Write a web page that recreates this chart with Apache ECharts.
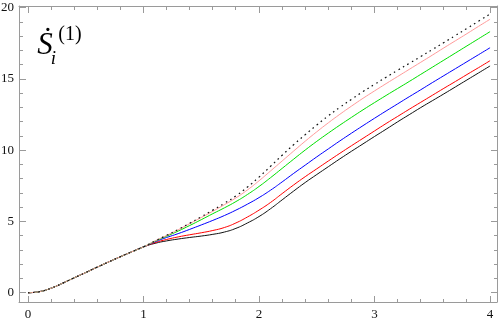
<!DOCTYPE html>
<html>
<head>
<meta charset="utf-8">
<script src="https://cdn.jsdelivr.net/npm/echarts@6/dist/echarts.min.js"></script>
<style>html,body{margin:0;padding:0;background:#fff}#c{width:500px;height:320px}</style>
</head>
<body>
<div id="c"></div>
<script>
// x samples
const xs = [0,0.1,0.2,0.3,0.4,0.5,0.6,0.7,0.8,0.9,1.0,
  1.1,1.2,1.3,1.4,1.5,1.6,1.7,1.8,1.9,2.0,
  2.1,2.2,2.3,2.4,2.5,2.6,2.7,2.8,2.9,3.0,
  3.1,3.2,3.3,3.4,3.5,3.6,3.7,3.8,3.9,4.0];
// shared part of every curve, x = 0 .. 1.0
const common = [0,0.08,0.32,0.67,1.05,1.42,1.80,2.17,2.53,2.88,3.22];
// individual parts, x = 1.1 .. 4.0
const blackTail = [3.47,3.64,3.77,3.88,3.98,4.10,4.26,4.52,4.90,5.35,5.90,6.52,7.14,7.74,8.30,8.85,9.40,9.93,10.45,10.97,11.48,12.00,12.50,13.00,13.48,13.96,14.45,14.94,15.43,15.92];
const redTail = [3.52,3.74,3.92,4.07,4.21,4.37,4.58,4.90,5.32,5.80,6.34,6.96,7.57,8.15,8.70,9.25,9.79,10.32,10.84,11.36,11.88,12.38,12.88,13.37,13.86,14.35,14.83,15.32,15.80,16.29];
const blueTail = [3.58,3.88,4.15,4.45,4.76,5.08,5.42,5.80,6.22,6.68,7.20,7.78,8.38,8.96,9.54,10.10,10.66,11.20,11.73,12.25,12.76,13.26,13.76,14.25,14.75,15.24,15.73,16.22,16.71,17.20];
const greenTail = [3.62,3.97,4.33,4.72,5.13,5.55,5.96,6.40,6.90,7.46,8.08,8.73,9.38,10.02,10.63,11.21,11.77,12.31,12.84,13.35,13.85,14.34,14.83,15.33,15.83,16.33,16.83,17.33,17.83,18.33];
const pinkTail = [3.64,4.02,4.42,4.85,5.28,5.72,6.18,6.66,7.22,7.86,8.55,9.25,9.95,10.64,11.30,11.93,12.53,13.10,13.65,14.17,14.68,15.18,15.68,16.18,16.68,17.19,17.69,18.19,18.70,19.20];
const dottedTail = [3.64,4.03,4.44,4.88,5.33,5.80,6.28,6.80,7.42,8.12,8.88,9.65,10.40,11.10,11.78,12.42,13.02,13.58,14.12,14.63,15.13,15.62,16.10,16.58,17.07,17.56,18.06,18.56,19.06,19.57];
// tick values
const xMajor = [0,1,2,3,4];
const xMinor = [0.2,0.4,0.6,0.8,1.2,1.4,1.6,1.8,2.2,2.4,2.6,2.8,3.2,3.4,3.6,3.8];
const yMajor = [0,5,10,15,20];
const yMinor = [1,2,3,4,6,7,8,9,11,12,13,14,16,17,18,19];

const FONT = '"Liberation Serif","Times New Roman",serif';
const FRAME = '#9a9a9a';
const XMIN = -0.078, XMAX = 4.06, YMIN = -0.65, YMAX = 20.13;
const MAJOR_LEN = 6, MINOR_LEN = 3;

function pts(tail){ const ys = common.concat(tail); return xs.map((x,i)=>[x, ys[i]]); }

function xAx(pos, labels){
  return {type:'value', min:XMIN, max:XMAX, position:pos, gridIndex:0,
    axisLine:{show:true, onZero:false, lineStyle:{color:FRAME, width:1}},
    axisTick:{show:false},
    axisLabel:{show:labels, customValues:xMajor, color:'#111', fontFamily:FONT, fontSize:13, margin:6},
    splitLine:{show:false}};
}
function yAx(pos, labels){
  return {type:'value', min:YMIN, max:YMAX, position:pos, gridIndex:0,
    axisLine:{show:true, onZero:false, lineStyle:{color:FRAME, width:1}},
    axisTick:{show:false},
    axisLabel:{show:labels, customValues:yMajor, color:'#111', fontFamily:FONT, fontSize:13, margin:5},
    splitLine:{show:false}};
}

function line(name, tail, color, type, w){
  return {name, type:'line', xAxisIndex:0, yAxisIndex:0, data:pts(tail), smooth:true,
    showSymbol:false, symbol:'none', animation:false, z:3,
    lineStyle:{color, width:w || 1, type: type || 'solid'}};
}

// frame ticks on all four sides, positioned through the axes' scales (1px crisp rects)
const xTickData = xMajor.map(v=>[v, 0, MAJOR_LEN]).concat(xMinor.map(v=>[v, 0, MINOR_LEN]));
const yTickData = yMajor.map(v=>[0, v, MAJOR_LEN]).concat(yMinor.map(v=>[0, v, MINOR_LEN]));

const xTicks = {type:'custom', coordinateSystem:'cartesian2d', xAxisIndex:0, yAxisIndex:0, clip:false, silent:true, z:2,
  dimensions:['x','y','len'], encode:{x:'x', y:'y'}, data:xTickData,
  renderItem:function(params, api){
    const v = api.value('x'), L = api.value('len');
    const b = api.coord([v, YMIN]), t = api.coord([v, YMAX]);
    const x = Math.round(b[0] - 0.5);
    const yb = Math.round(b[1]), yt = Math.round(t[1]);
    return {type:'group', children:[
      {type:'rect', shape:{x:x, y:yb - L, width:1, height:L}, style:{fill:FRAME, stroke:null}},
      {type:'rect', shape:{x:x, y:yt + 1, width:1, height:L}, style:{fill:FRAME, stroke:null}}
    ]};
  }};
const yTicks = {type:'custom', coordinateSystem:'cartesian2d', xAxisIndex:0, yAxisIndex:0, clip:false, silent:true, z:2,
  dimensions:['x','y','len'], encode:{x:'x', y:'y'}, data:yTickData,
  renderItem:function(params, api){
    const v = api.value('y'), L = api.value('len');
    const l = api.coord([XMIN, v]), r = api.coord([XMAX, v]);
    const y = Math.round(l[1] - 0.5);
    const xl = Math.round(l[0]), xr = Math.round(r[0]);
    return {type:'group', children:[
      {type:'rect', shape:{x:xl + 1, y:y, width:L, height:1}, style:{fill:FRAME, stroke:null}},
      {type:'rect', shape:{x:xr - L, y:y, width:L, height:1}, style:{fill:FRAME, stroke:null}}
    ]};
  }};

const chart = echarts.init(document.getElementById('c'), null, {renderer:'canvas'});
chart.setOption({
  animation:false,
  backgroundColor:'#fff',
  grid:{left:19, right:3, top:6, bottom:18, containLabel:false, outerBoundsMode:'none'},
  xAxis:[xAx('bottom', true), xAx('top', false)],
  yAxis:[yAx('left', true), yAx('right', false)],
  series:[
    xTicks, yTicks,
    line('black', blackTail, '#111111'),
    line('red', redTail, '#ff0000'),
    line('blue', blueTail, '#0000ff'),
    line('green', greenTail, '#00e000'),
    line('pink', pinkTail, '#ff9a9a'),
    line('dotted', dottedTail, '#111111', [1.6, 3.6], 1.2)
  ],
  graphic:[
    {type:'text', x:45, y:46, style:{text:'Ṡ', font:'italic 31px "Liberation Serif","DejaVu Serif",serif', fill:'#000', align:'center', verticalAlign:'middle'}},
    {type:'text', x:53.5, y:59, style:{text:'i', font:'italic 19px "Liberation Serif",serif', fill:'#000', align:'center', verticalAlign:'middle'}},
    {type:'text', x:70, y:35, style:{text:'(1)', font:'20px "Liberation Serif",serif', fill:'#000', align:'center', verticalAlign:'middle'}}
  ]
});
</script>
</body>
</html>
